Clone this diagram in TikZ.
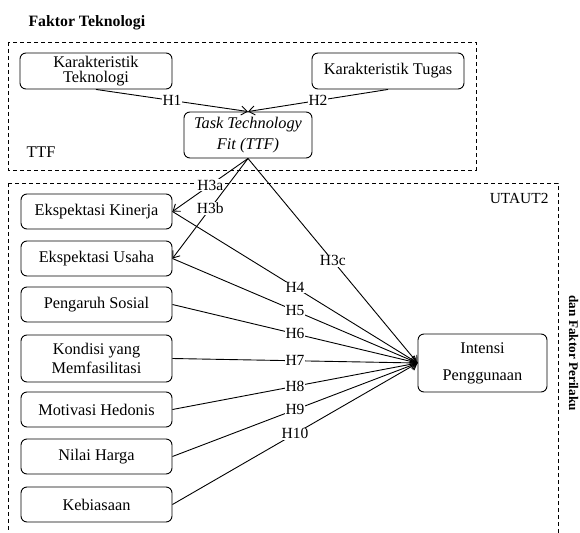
\documentclass[tikz,border=0pt]{standalone}
\usepackage{fontspec}
\setmainfont{Liberation Serif}
\usepackage{tikz}
\usetikzlibrary{arrows.meta,positioning}

\begin{document}
\begin{tikzpicture}[x=1pt, y=-1pt,
  box/.style={draw, rounded corners=6pt, line width=0.9pt, align=center, inner sep=0pt,
              minimum width=151pt, minimum height=35pt, font=\fontsize{16.3}{17}\selectfont},
  arr/.style={-{Straight Barb[length=6pt, width=9pt]}, line width=0.9pt},
  grp/.style={draw, line width=0.9pt, dash pattern=on 4pt off 3pt},
  hyp/.style={fill=white, inner sep=0.6pt, font=\fontsize{15.5}{16}\selectfont}
]
\useasboundingbox (0,0) rectangle (580,532);

% groups
\draw[grp] (8,42) rectangle (476,170);
\draw[grp] (8,183) rectangle (558,545);
\node[anchor=base west, font=\fontsize{15.8}{16}\selectfont\bfseries] (judul) at (25,27) {Faktor Teknologi};
\node[anchor=base west, font=\fontsize{16.3}{17}\selectfont] (ttflbl) at (23,157) {TTF};
\node[anchor=base east, font=\fontsize{15.4}{16}\selectfont] (utaut) at (552,203) {UTAUT2};
\node[anchor=base west, rotate=-90, font=\fontsize{13.2}{14}\selectfont\bfseries] (perilaku) at (569,292) {dan Faktor Perilaku};

% TTF
\node[box, minimum width=152pt, minimum height=36pt, font=\fontsize{16.3}{15}\selectfont] (kt) at (96,71) {Karakteristik\\Teknologi};
\node[box, minimum width=152pt, minimum height=36pt] (ktg) at (388,71) {Karakteristik Tugas};
\node[box, minimum width=128pt, minimum height=46pt, font=\fontsize{16.3}{21}\selectfont\itshape] (ttf) at (248,135) {Task Technology\\Fit (TTF)};

% UTAUT2
\node[box] (ek) at (96.5,211.5) {Ekspektasi Kinerja};
\node[box] (eu) at (96.5,258.5) {Ekspektasi Usaha};
\node[box] (ps) at (96.5,304.5) {Pengaruh Sosial};
\node[box, minimum height=47pt, font=\fontsize{16.3}{19}\selectfont] (km) at (96.5,358.5) {Kondisi yang\\Memfasilitasi};
\node[box] (mh) at (96.5,409.5) {Motivasi Hedonis};
\node[box] (nh) at (96.5,456.5) {Nilai Harga};
\node[box] (kb) at (96.5,504.5) {Kebiasaan};
\node[box, minimum width=129pt, minimum height=58pt, font=\fontsize{16.3}{27}\selectfont] (ip) at (482.5,363) {Intensi\\Penggunaan};

\draw[arr] (kt.south) -- (ttf.north) node[midway, hyp] {H1};
\draw[arr] (ktg.south) -- (ttf.north) node[midway, hyp] {H2};
\draw[arr] (ttf.south) -- (ek.east) node[midway, hyp] {H3a};
\draw[arr] (ttf.south) -- (eu.east) node[midway, hyp] {H3b};
\draw[arr] (ttf.south) -- (ip.west) node[midway, hyp] {H3c};
\draw[arr] (ek.east) -- (ip.west) node[midway, hyp] {H4};
\draw[arr] (eu.east) -- (ip.west) node[midway, hyp] {H5};
\draw[arr] (ps.east) -- (ip.west) node[midway, hyp] {H6};
\draw[arr] (km.east) -- (ip.west) node[midway, hyp] {H7};
\draw[arr] (mh.east) -- (ip.west) node[midway, hyp] {H8};
\draw[arr] (nh.east) -- (ip.west) node[midway, hyp] {H9};
\draw[arr] (kb.east) -- (ip.west) node[midway, hyp] {H10};
\end{tikzpicture}
\end{document}
